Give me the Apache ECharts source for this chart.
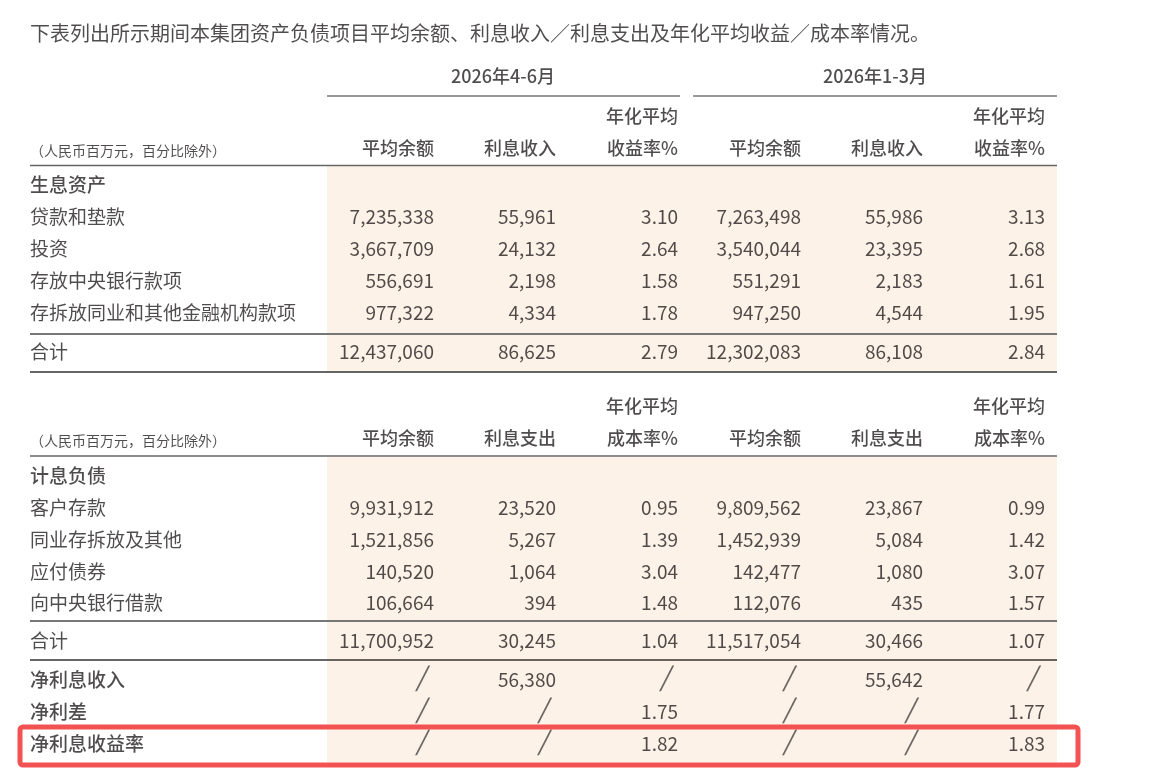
<!DOCTYPE html>
<html><head><meta charset="utf-8">
<script src="https://cdn.jsdelivr.net/npm/echarts@6/dist/echarts.min.js"></script>
<style>html,body{margin:0;padding:0;background:#fff}#c{width:1152px;height:780px}</style>
</head><body><div id="c"></div>
<script>
const title = '下表列出所示期间本集团资产负债项目平均余额、利息收入／利息支出及年化平均收益／成本率情况。';
const periods = ['2026年4-6月', '2026年1-3月'];
const unitLabel = '（人民币百万元，百分比除外）';
const headerA = [['', '平均余额'], ['', '利息收入'], ['年化平均', '收益率%'], ['', '平均余额'], ['', '利息收入'], ['年化平均', '收益率%']];
const headerB = [['', '平均余额'], ['', '利息支出'], ['年化平均', '成本率%'], ['', '平均余额'], ['', '利息支出'], ['年化平均', '成本率%']];
const sectionA = '生息资产';
const assetLabels = ['贷款和垫款', '投资', '存放中央银行款项', '存拆放同业和其他金融机构款项'];
const assetRows = [
  ['7,235,338', '55,961', '3.10', '7,263,498', '55,986', '3.13'],
  ['3,667,709', '24,132', '2.64', '3,540,044', '23,395', '2.68'],
  ['556,691', '2,198', '1.58', '551,291', '2,183', '1.61'],
  ['977,322', '4,334', '1.78', '947,250', '4,544', '1.95']];
const assetTotal = ['12,437,060', '86,625', '2.79', '12,302,083', '86,108', '2.84'];
const sectionB = '计息负债';
const liabLabels = ['客户存款', '同业存拆放及其他', '应付债券', '向中央银行借款'];
const liabRows = [
  ['9,931,912', '23,520', '0.95', '9,809,562', '23,867', '0.99'],
  ['1,521,856', '5,267', '1.39', '1,452,939', '5,084', '1.42'],
  ['140,520', '1,064', '3.04', '142,477', '1,080', '3.07'],
  ['106,664', '394', '1.48', '112,076', '435', '1.57']];
const liabTotal = ['11,700,952', '30,245', '1.04', '11,517,054', '30,466', '1.07'];
const netLabels = ['净利息收入', '净利差', '净利息收益率'];
const netRows = [
  ['/', '56,380', '/', '/', '55,642', '/'],
  ['/', '/', '1.75', '/', '/', '1.77'],
  ['/', '/', '1.82', '/', '/', '1.83']];

// layout (pixels)
const colX = [434, 556, 678, 801, 923, 1045];
const labelX = 30;
const F = '"Noto Sans CJK SC","Noto Sans",sans-serif';
const C = '#231f20';

const pts = [];
function add(x, y, text, opt) { pts.push(Object.assign({ value: [x, y], text: text }, opt || {})); }
function addRow(y, label, vals, bold) {
  add(labelX, y, label, { align: 'left', bold: bold });
  vals.forEach((v, i) => {
    if (v === '/') add(colX[i] - 12, y, '╱', { align: 'center', slash: true });
    else add(colX[i], y, v, { align: 'right' });
  });
}
add(30, 33, title, { align: 'left', size: 20 });
add(503, 76, periods[0], { align: 'center', size: 18, bold: true });
add(875, 76, periods[1], { align: 'center', size: 18, bold: true });
function header(y1, y2, hdr) {
  add(labelX, y2 + 3, unitLabel, { align: 'left', size: 14 });
  hdr.forEach((h, i) => {
    if (h[0]) add(colX[i], y1, h[0], { align: 'right', size: 18, bold: true });
    add(colX[i], y2, h[1], { align: 'right', size: 18, bold: true });
  });
}
header(116, 148, headerA);
add(labelX, 185, sectionA, { align: 'left', bold: true });
assetRows.forEach((r, i) => addRow(217 + i * 32, assetLabels[i], r));
addRow(352, '合计', assetTotal);
header(406, 438, headerB);
add(labelX, 476, sectionB, { align: 'left', bold: true });
liabRows.forEach((r, i) => addRow(508 + i * 31.7, liabLabels[i], r));
addRow(641, '合计', liabTotal);
netRows.forEach((r, i) => addRow(680 + i * 32, netLabels[i], r, true));

function line(x1, x2, y, w, col) {
  return { type: 'line', shape: { x1: x1, y1: y, x2: x2, y2: y }, style: { stroke: col, lineWidth: w }, z: 2 };
}
const graphics = [
  { type: 'rect', shape: { x: 327, y: 166, width: 730, height: 206 }, style: { fill: '#fdf2e7' }, z: 0 },
  { type: 'rect', shape: { x: 327, y: 457, width: 730, height: 305 }, style: { fill: '#fdf2e7' }, z: 0 },
  line(327, 680, 96, 1.2, '#333'), line(693, 1057, 96, 1.2, '#333'),
  line(30, 1057, 165.5, 1.5, '#666'), line(30, 1057, 334, 2, '#777'), line(30, 1057, 372, 1.5, '#333'),
  line(30, 1057, 456, 1.5, '#666'), line(30, 1057, 621, 2, '#777'), line(30, 1057, 660, 1.5, '#333'),
  { type: 'rect', shape: { x: 20, y: 727, width: 1058, height: 38, r: 3 }, style: { fill: 'none', stroke: '#f25252', lineWidth: 5 }, z: 5 }
];

const chart = echarts.init(document.getElementById('c'));
chart.setOption({
  animation: false,
  grid: { left: 0, right: 0, top: 0, bottom: 0 },
  xAxis: { type: 'value', min: 0, max: 1152, show: false },
  yAxis: { type: 'value', min: 0, max: 780, inverse: true, show: false },
  graphic: graphics,
  series: [{
    type: 'scatter', symbolSize: 0, z: 3,
    data: pts.map(p => ({
      value: p.value,
      label: {
        show: true, position: 'inside', formatter: p.text, align: p.align,
        verticalAlign: 'middle',
        fontFamily: p.slash ? 'DejaVu Sans' : F, fontSize: p.slash ? 22 : (p.size || 19),
        fontWeight: p.bold ? 500 : (p.slash ? 200 : 'normal'), color: p.slash ? '#444' : C
      }
    }))
  }]
});
</script></body></html>
